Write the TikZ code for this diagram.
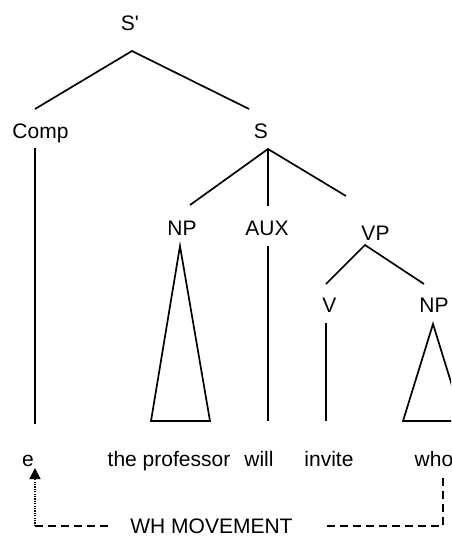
\documentclass[tikz,border=0pt]{standalone}
\usepackage{fontspec}
\newfontfamily\arial{Liberation Sans}
\usetikzlibrary{arrows.meta,calc}
\begin{document}
\begin{tikzpicture}[x=1pt,y=-1pt,
  lab/.style={font=\arial\fontsize{21}{25}\selectfont, anchor=base, inner sep=0pt},
  br/.style={line width=1.7pt, line join=miter},
  mv/.style={line width=1.5pt, dash pattern=on 8pt off 5pt},
  dt/.style={line width=1.3pt, dash pattern=on 1.2pt off 1.2pt}]
\useasboundingbox (0,0) rectangle (451,536);
\clip (0,0) rectangle (451,536);
% labels
\node[lab] (Sp)   at (130,30)  {S'};
\node[lab] (Comp) at (40.5,138) {Comp};
\node[lab] (S)    at (261,138) {S};
\node[lab] (NPa)  at (182,235) {NP};
\node[lab] (AUX)  at (267,235) {AUX};
\node[lab] (VP)   at (375.5,240) {VP};
\node[lab] (V)    at (329.5,312) {V};
\node[lab] (NPb)  at (434,312) {NP};
% leaves
\node[lab] (e)    at (28,466)  {e};
\node[lab] (prof) at (169,466) {the professor};
\node[lab] (will) at (259,466) {will};
\node[lab] (inv)  at (329,466) {invite};
\node[lab] (who)  at (434,466) {who};
\node[lab] (WH)   at (211.5,533) {WH MOVEMENT};
% branches
\draw[br] ($(Comp.base)+(-5.5,-29)$) -- ($(Sp.base)+(2,21)$) -- ($(S.base)+(-12,-29)$);
\draw[br] ($(Comp.base)+(-5.5,10)$) -- ($(e.base)+(7,-42)$);
\draw[br] ($(NPa.base)+(8,-30)$) -- ($(S.base)+(7,11)$) -- ($(VP.base)+(-29.5,-44)$);
\draw[br] ($(S.base)+(7,11)$) -- ($(AUX.base)+(1,-29)$);
\draw[br] ($(NPa.base)+(-2,11)$) -- ($(NPa.base)+(-31,186)$) -- ($(NPa.base)+(28,186)$) -- cycle;
\draw[br] ($(AUX.base)+(1,11)$) -- ($(will.base)+(9,-45)$);
\draw[br] ($(V.base)+(-3.5,-28)$) -- ($(VP.base)+(-10.5,5)$) -- ($(NPb.base)+(-10,-28)$);
\draw[br] ($(V.base)+(-3.5,11)$) -- ($(inv.base)+(-3,-45)$);
\draw[br] ($(NPb.base)+(-1,12)$) -- ($(NPb.base)+(-31,109)$) -- ($(NPb.base)+(29,109)$) -- cycle;
% movement
\coordinate (mvL) at ($(e.base)+(7,60)$);
\draw[mv] (mvL) -- ($(WH.base)+(-101.5,-7)$);
\draw[mv] ($(WH.base)+(115.5,-7)$) -| ($(who.base)+(9,12)$);
\draw[dt,-{Triangle[length=11pt,width=11pt]}] (mvL) -- ($(e.base)+(7,2)$);
\end{tikzpicture}
\end{document}
